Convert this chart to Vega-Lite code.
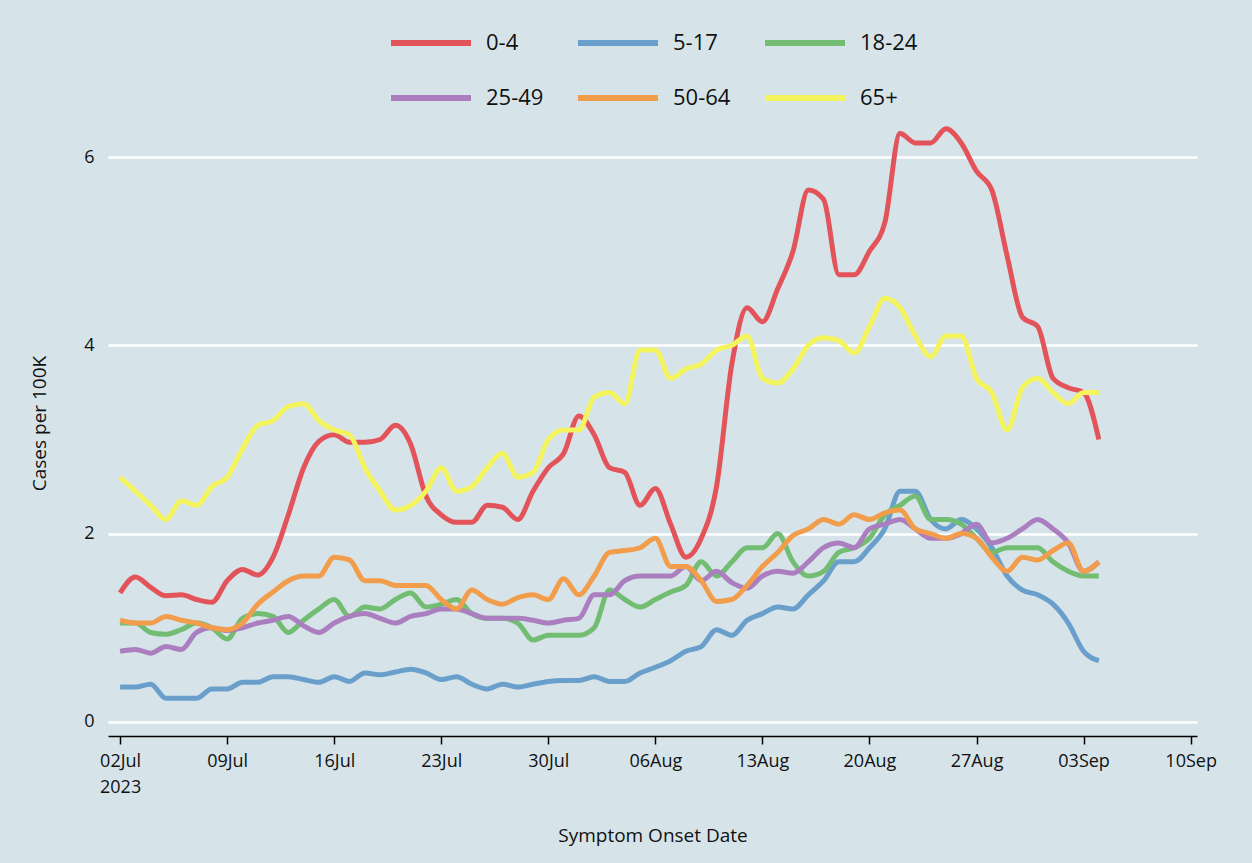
{
  "$schema": "https://vega.github.io/schema/vega-lite/v6.json",
  "width": 1252,
  "height": 863,
  "autosize": {"type": "fit", "contains": "padding"},
  "padding": {"left": 30, "right": 36, "top": 0, "bottom": 18},
  "background": "#d6e4ea",
  "config": {
    "view": {"stroke": null},
    "font": "Open Sans",
    "legend": {"layout": {"top": {"anchor": "middle"}}},
    "axis": {"labelFont": "Open Sans", "titleFont": "Open Sans", "labelFontSize": 18, "titleFontSize": 19, "labelColor": "#111", "titleColor": "#111", "titleFontWeight": "normal"}
  },
  "data": {
    "values": [
      {"i": 0, "a": 1.37, "b": 0.37, "c": 1.05, "d": 0.75, "e": 1.08, "f": 2.6},
      {"i": 1, "a": 1.54, "b": 0.37, "c": 1.05, "d": 0.77, "e": 1.05, "f": 2.45},
      {"i": 2, "a": 1.43, "b": 0.4, "c": 0.95, "d": 0.73, "e": 1.05, "f": 2.3},
      {"i": 3, "a": 1.34, "b": 0.25, "c": 0.93, "d": 0.8, "e": 1.12, "f": 2.15},
      {"i": 4, "a": 1.35, "b": 0.25, "c": 0.98, "d": 0.77, "e": 1.08, "f": 2.35},
      {"i": 5, "a": 1.3, "b": 0.25, "c": 1.05, "d": 0.95, "e": 1.05, "f": 2.3},
      {"i": 6, "a": 1.27, "b": 0.35, "c": 1.0, "d": 1.0, "e": 1.0, "f": 2.5},
      {"i": 7, "a": 1.5, "b": 0.35, "c": 0.88, "d": 0.97, "e": 0.98, "f": 2.6},
      {"i": 8, "a": 1.62, "b": 0.42, "c": 1.1, "d": 1.0, "e": 1.05, "f": 2.9},
      {"i": 9, "a": 1.56, "b": 0.42, "c": 1.15, "d": 1.05, "e": 1.25, "f": 3.15},
      {"i": 10, "a": 1.75, "b": 0.48, "c": 1.12, "d": 1.08, "e": 1.38, "f": 3.2},
      {"i": 11, "a": 2.2, "b": 0.48, "c": 0.95, "d": 1.12, "e": 1.5, "f": 3.35},
      {"i": 12, "a": 2.7, "b": 0.45, "c": 1.08, "d": 1.02, "e": 1.55, "f": 3.38},
      {"i": 13, "a": 2.98, "b": 0.42, "c": 1.2, "d": 0.95, "e": 1.55, "f": 3.2},
      {"i": 14, "a": 3.05, "b": 0.48, "c": 1.3, "d": 1.05, "e": 1.75, "f": 3.1},
      {"i": 15, "a": 2.97, "b": 0.43, "c": 1.12, "d": 1.12, "e": 1.72, "f": 3.05},
      {"i": 16, "a": 2.97, "b": 0.52, "c": 1.22, "d": 1.15, "e": 1.5, "f": 2.7},
      {"i": 17, "a": 3.0, "b": 0.5, "c": 1.2, "d": 1.1, "e": 1.5, "f": 2.45},
      {"i": 18, "a": 3.15, "b": 0.53, "c": 1.3, "d": 1.05, "e": 1.45, "f": 2.25},
      {"i": 19, "a": 2.95, "b": 0.56, "c": 1.37, "d": 1.12, "e": 1.45, "f": 2.3},
      {"i": 20, "a": 2.4, "b": 0.52, "c": 1.22, "d": 1.15, "e": 1.45, "f": 2.45},
      {"i": 21, "a": 2.2, "b": 0.45, "c": 1.25, "d": 1.2, "e": 1.3, "f": 2.7},
      {"i": 22, "a": 2.12, "b": 0.48, "c": 1.3, "d": 1.2, "e": 1.2, "f": 2.45},
      {"i": 23, "a": 2.12, "b": 0.4, "c": 1.15, "d": 1.15, "e": 1.4, "f": 2.5},
      {"i": 24, "a": 2.3, "b": 0.35, "c": 1.1, "d": 1.1, "e": 1.3, "f": 2.7},
      {"i": 25, "a": 2.28, "b": 0.4, "c": 1.1, "d": 1.1, "e": 1.25, "f": 2.85},
      {"i": 26, "a": 2.15, "b": 0.37, "c": 1.05, "d": 1.1, "e": 1.32, "f": 2.6},
      {"i": 27, "a": 2.45, "b": 0.4, "c": 0.87, "d": 1.08, "e": 1.35, "f": 2.65},
      {"i": 28, "a": 2.7, "b": 0.43, "c": 0.92, "d": 1.05, "e": 1.3, "f": 3.0},
      {"i": 29, "a": 2.85, "b": 0.44, "c": 0.92, "d": 1.08, "e": 1.52, "f": 3.1},
      {"i": 30, "a": 3.25, "b": 0.44, "c": 0.92, "d": 1.1, "e": 1.35, "f": 3.1},
      {"i": 31, "a": 3.05, "b": 0.48, "c": 1.0, "d": 1.35, "e": 1.55, "f": 3.45},
      {"i": 32, "a": 2.7, "b": 0.43, "c": 1.4, "d": 1.35, "e": 1.8, "f": 3.5},
      {"i": 33, "a": 2.65, "b": 0.43, "c": 1.3, "d": 1.5, "e": 1.82, "f": 3.38},
      {"i": 34, "a": 2.3, "b": 0.52, "c": 1.22, "d": 1.55, "e": 1.85, "f": 3.95},
      {"i": 35, "a": 2.48, "b": 0.58, "c": 1.3, "d": 1.55, "e": 1.95, "f": 3.95},
      {"i": 36, "a": 2.1, "b": 0.65, "c": 1.38, "d": 1.55, "e": 1.65, "f": 3.65},
      {"i": 37, "a": 1.75, "b": 0.75, "c": 1.45, "d": 1.65, "e": 1.65, "f": 3.75},
      {"i": 38, "a": 1.95, "b": 0.8, "c": 1.7, "d": 1.5, "e": 1.5, "f": 3.8},
      {"i": 39, "a": 2.5, "b": 0.98, "c": 1.55, "d": 1.6, "e": 1.28, "f": 3.95},
      {"i": 40, "a": 3.8, "b": 0.92, "c": 1.7, "d": 1.48, "e": 1.3, "f": 4.0},
      {"i": 41, "a": 4.4, "b": 1.08, "c": 1.85, "d": 1.42, "e": 1.45, "f": 4.1},
      {"i": 42, "a": 4.25, "b": 1.15, "c": 1.85, "d": 1.55, "e": 1.65, "f": 3.65},
      {"i": 43, "a": 4.6, "b": 1.22, "c": 2.0, "d": 1.6, "e": 1.8, "f": 3.6},
      {"i": 44, "a": 5.0, "b": 1.2, "c": 1.7, "d": 1.58, "e": 1.98, "f": 3.75},
      {"i": 45, "a": 5.65, "b": 1.35, "c": 1.55, "d": 1.7, "e": 2.05, "f": 4.0},
      {"i": 46, "a": 5.55, "b": 1.5, "c": 1.6, "d": 1.85, "e": 2.15, "f": 4.08},
      {"i": 47, "a": 4.75, "b": 1.7, "c": 1.8, "d": 1.9, "e": 2.1, "f": 4.05},
      {"i": 48, "a": 4.75, "b": 1.7, "c": 1.85, "d": 1.85, "e": 2.2, "f": 3.92},
      {"i": 49, "a": 5.0, "b": 1.85, "c": 1.95, "d": 2.05, "e": 2.15, "f": 4.2},
      {"i": 50, "a": 5.3, "b": 2.05, "c": 2.2, "d": 2.1, "e": 2.22, "f": 4.5},
      {"i": 51, "a": 6.25, "b": 2.45, "c": 2.3, "d": 2.15, "e": 2.25, "f": 4.4},
      {"i": 52, "a": 6.15, "b": 2.45, "c": 2.4, "d": 2.05, "e": 2.05, "f": 4.1},
      {"i": 53, "a": 6.15, "b": 2.15, "c": 2.15, "d": 1.95, "e": 2.0, "f": 3.88},
      {"i": 54, "a": 6.3, "b": 2.05, "c": 2.15, "d": 1.95, "e": 1.95, "f": 4.1},
      {"i": 55, "a": 6.15, "b": 2.15, "c": 2.1, "d": 2.0, "e": 2.0, "f": 4.1},
      {"i": 56, "a": 5.85, "b": 2.05, "c": 1.95, "d": 2.1, "e": 1.95, "f": 3.65},
      {"i": 57, "a": 5.65, "b": 1.85, "c": 1.8, "d": 1.9, "e": 1.75, "f": 3.5},
      {"i": 58, "a": 4.95, "b": 1.55, "c": 1.85, "d": 1.95, "e": 1.6, "f": 3.1},
      {"i": 59, "a": 4.3, "b": 1.4, "c": 1.85, "d": 2.05, "e": 1.75, "f": 3.55},
      {"i": 60, "a": 4.2, "b": 1.35, "c": 1.85, "d": 2.15, "e": 1.72, "f": 3.65},
      {"i": 61, "a": 3.65, "b": 1.25, "c": 1.7, "d": 2.05, "e": 1.82, "f": 3.5},
      {"i": 62, "a": 3.55, "b": 1.05, "c": 1.6, "d": 1.9, "e": 1.9, "f": 3.38},
      {"i": 63, "a": 3.5, "b": 0.75, "c": 1.55, "d": 1.6, "e": 1.6, "f": 3.5},
      {"i": 64, "a": 3.0, "b": 0.65, "c": 1.55, "d": 1.7, "e": 1.7, "f": 3.5}
    ]
  },
  "transform": [
    {"fold": ["a", "b", "c", "d", "e", "f"], "as": ["key", "value"]},
    {"lookup": "key", "from": {"data": {"values": [
      {"key": "a", "group": "0-4"}, {"key": "b", "group": "5-17"}, {"key": "c", "group": "18-24"},
      {"key": "d", "group": "25-49"}, {"key": "e", "group": "50-64"}, {"key": "f", "group": "65+"}
    ]}, "key": "key", "fields": ["group"]}},
    {"calculate": "datetime(2023, 6, 2 + datum.i)", "as": "date"}
  ],
  "mark": {"type": "line", "strokeWidth": 5, "interpolate": "monotone"},
  "encoding": {
    "x": {
      "field": "date", "type": "temporal", "title": "Symptom Onset Date",
      "scale": {"domain": [{"year": 2023, "month": 7, "date": 1, "hours": 5}, {"year": 2023, "month": 9, "date": 10, "hours": 10}]},
      "axis": {
        "values": [{"year": 2023, "month": 7, "date": 2}, {"year": 2023, "month": 7, "date": 9}, {"year": 2023, "month": 7, "date": 16}, {"year": 2023, "month": 7, "date": 23}, {"year": 2023, "month": 7, "date": 30}, {"year": 2023, "month": 8, "date": 6}, {"year": 2023, "month": 8, "date": 13}, {"year": 2023, "month": 8, "date": 20}, {"year": 2023, "month": 8, "date": 27}, {"year": 2023, "month": 9, "date": 3}, {"year": 2023, "month": 9, "date": 10}],
        "labelExpr": "month(datum.value) == 6 && date(datum.value) == 2 ? [timeFormat(datum.value, '%d%b'), '2023'] : timeFormat(datum.value, '%d%b')",
        "grid": false, "domainColor": "#000", "domainWidth": 1.5, "tickColor": "#000", "tickWidth": 1.5, "tickSize": 8,
        "labelPadding": 8, "titlePadding": 30, "labelAlign": "center", "labelLineHeight": 26, "labelOverlap": false
      }
    },
    "y": {
      "field": "value", "type": "quantitative", "title": "Cases per 100K",
      "scale": {"domain": [-0.15, 6.5], "nice": false, "zero": false},
      "axis": {"values": [0, 2, 4, 6], "domain": false, "ticks": false, "gridColor": "#ffffff", "gridWidth": 2.5, "labelPadding": 14, "titlePadding": 34}
    },
    "color": {
      "field": "group", "type": "nominal",
      "sort": ["0-4", "5-17", "18-24", "25-49", "50-64", "65+"],
      "scale": {"domain": ["0-4", "5-17", "18-24", "25-49", "50-64", "65+"], "range": ["#e3545a", "#6a9fcc", "#72bd72", "#ab7fbf", "#f29d4b", "#f4f45e"]},
      "legend": {"orient": "top", "direction": "horizontal", "columns": 3, "title": null, "symbolType": "stroke", "symbolStrokeWidth": 6, "symbolSize": 6400, "labelFontSize": 22, "labelColor": "#111", "columnPadding": 22, "rowPadding": -43, "labelLimit": 200, "labelOffset": 12, "offset": 0}
    }
  }
}
